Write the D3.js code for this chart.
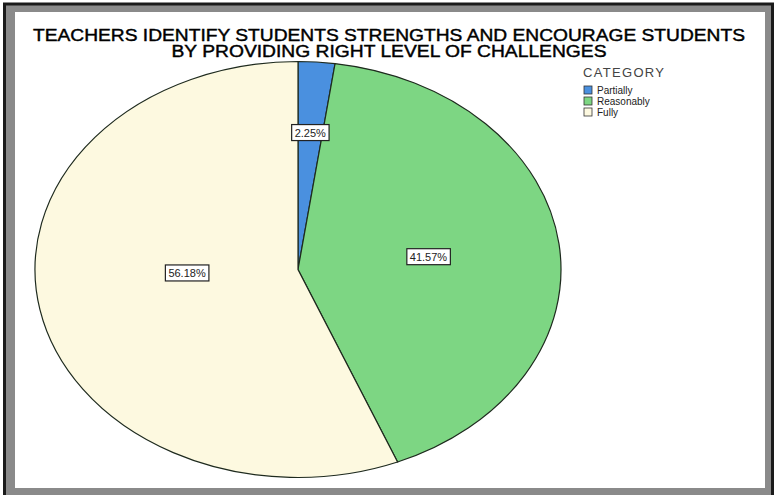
<!DOCTYPE html>
<html><head><meta charset="utf-8">
<script src="https://cdn.jsdelivr.net/npm/d3@7"></script>
<style>body{margin:0;background:#fff}svg{display:block}</style>
</head><body>
<script>
const categories = ["Partially", "Reasonably", "Fully"];
const values = [2.25, 41.57, 56.18];
const labels = ["2.25%", "41.57%", "56.18%"];
const titleLines = ["TEACHERS IDENTIFY STUDENTS STRENGTHS AND ENCOURAGE STUDENTS", "BY PROVIDING RIGHT LEVEL OF CHALLENGES"];
const legendTitle = "CATEGORY";
const colors = ["#4a90df", "#7dd683", "#fdf9e0"];

const W = 775, H = 495;
const svg = d3.select("body").append("svg").attr("width", W).attr("height", H);

// frame
svg.append("rect").attr("x", 4.5).attr("y", 4).attr("width", 768).attr("height", 495)
  .attr("fill", "#8a8a8a").attr("stroke", "#1a1a1a").attr("stroke-width", 3);
svg.append("rect").attr("x", 15).attr("y", 12).attr("width", 750).attr("height", 476).attr("fill", "#fff");

// title
const tW = [712, 435];
titleLines.forEach((t, i) => {
  svg.append("text").attr("x", 389).attr("y", 41 + i * 16)
    .attr("text-anchor", "middle")
    .attr("font-family", "Liberation Sans, Arial, sans-serif")
    .attr("font-size", 16).attr("font-weight", "normal").attr("fill", "#000")
    .attr("stroke", "#000").attr("stroke-width", 0.4)
    .attr("textLength", tW[i]).attr("lengthAdjust", "spacingAndGlyphs")
    .text(t);
});

// pie (elliptical as in the reference)
const cx = 298, cy = 269.5, rx = 263, ry = 208;
const pie = d3.pie().sort(null).value(d => d)(values);
const arc = d3.arc().innerRadius(0).outerRadius(rx);
const g = svg.append("g").attr("transform", `translate(${cx},${cy}) scale(1,${ry / rx})`);
g.selectAll("path").data(pie).join("path")
  .attr("d", arc)
  .attr("fill", (d, i) => colors[i])
  .attr("stroke", "#1e2a1e").attr("stroke-width", 1.2)
  .attr("vector-effect", "non-scaling-stroke");

// labels
const lg = svg.append("g").attr("font-family", "Liberation Sans, Arial, sans-serif").attr("font-size", 11);
pie.forEach((d, i) => {
  const share = (d.endAngle - d.startAngle) / (2 * Math.PI);
  const f = share < 0.05 ? 0.66 : (share > 0.5 ? 0.43 : 0.5);
  const a = (d.startAngle + d.endAngle) / 2;
  const x = cx + rx * f * Math.sin(a);
  const y = cy - ry * f * Math.cos(a) * (share > 0.5 ? 0.2 : 1);
  const t = lg.append("text").attr("x", x).attr("y", y + 4).attr("text-anchor", "middle")
    .attr("fill", "#222").text(labels[i]);
  const bb = t.node().getBBox();
  lg.insert("rect", () => t.node()).attr("x", bb.x - 3).attr("y", y - 8)
    .attr("width", bb.width + 6).attr("height", 16)
    .attr("fill", "#fff").attr("stroke", "#222").attr("stroke-width", 1.2);
});

// legend
const leg = svg.append("g").attr("font-family", "Liberation Sans, Arial, sans-serif");
leg.append("text").attr("x", 583).attr("y", 77).attr("font-size", 13).attr("fill", "#444")
  .attr("textLength", 81).text(legendTitle);
categories.forEach((c, i) => {
  const y = 90 + i * 11;
  leg.append("rect").attr("x", 584).attr("y", y - 4).attr("width", 8).attr("height", 8)
    .attr("fill", colors[i]).attr("stroke", "#333").attr("stroke-width", 0.8);
  leg.append("text").attr("x", 597).attr("y", y + 3.5).attr("font-size", 10).attr("fill", "#222").text(c);
});
</script>
</body></html>
